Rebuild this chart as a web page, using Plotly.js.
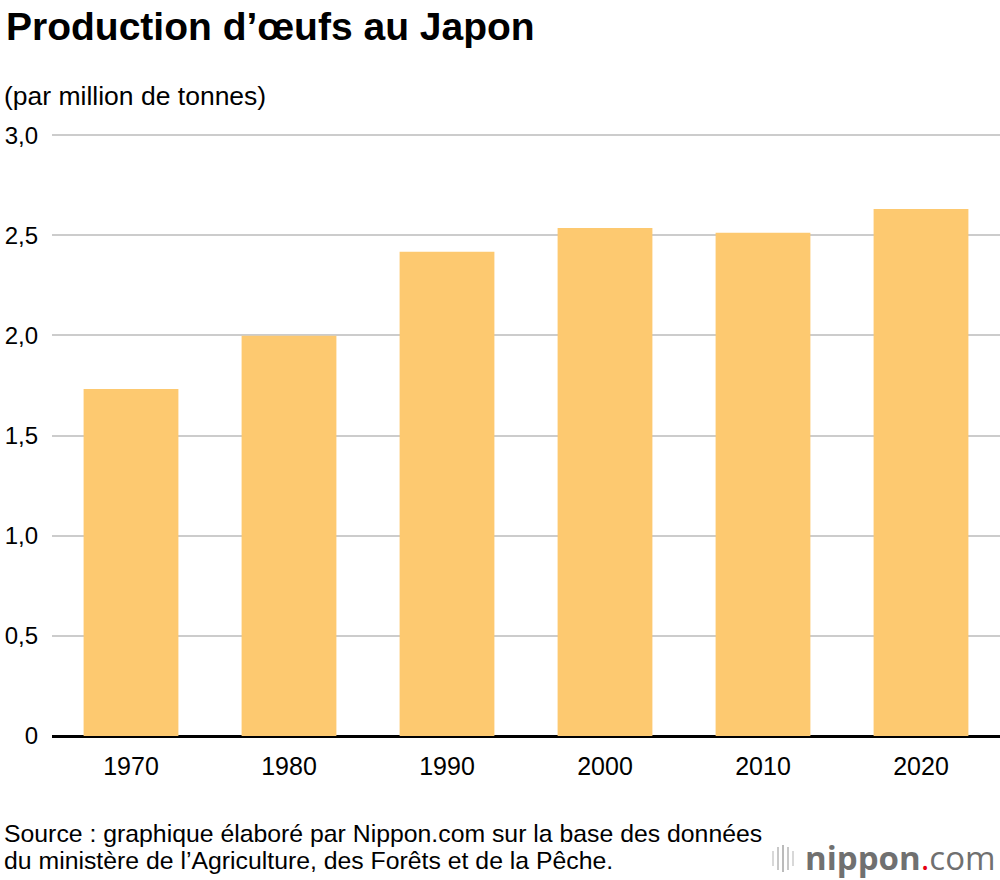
<!DOCTYPE html>
<html>
<head>
<meta charset="utf-8">
<script src="https://cdn.plot.ly/plotly-3.0.1.min.js"></script>
<style>
html,body{margin:0;padding:0;background:#fff;}
#chart{width:1000px;height:880px;}
</style>
</head>
<body>
<div id="chart"></div>
<script>
var years = ["1970", "1980", "1990", "2000", "2010", "2020"];
var production = [1.733, 1.998, 2.418, 2.537, 2.513, 2.632];
var yTickVals = [0, 0.5, 1, 1.5, 2, 2.5, 3];
var yTickText = ["0", "0,5", "1,0", "1,5", "2,0", "2,5", "3,0"];

var FONT = "Liberation Sans, Arial, Helvetica, sans-serif";

var trace = {
  type: "bar",
  x: years,
  y: production,
  width: 0.6,
  marker: {color: "#FDC970", line: {width: 0}},
  hoverinfo: "x+y"
};

var plotW = 948, plotH = 602, plotL = 52, plotT = 134;
function py(pix) { return (plotT + plotH - pix) / plotH; }
function px(pix) { return (pix - plotL) / plotW; }

var layout = {
  width: 1000,
  height: 880,
  margin: {l: plotL, r: 0, t: plotT, b: 880 - plotT - plotH},
  paper_bgcolor: "#ffffff",
  plot_bgcolor: "#ffffff",
  font: {family: FONT, color: "#000", size: 25},
  showlegend: false,
  bargap: 0.4,
  title: {
    text: "<b>Production d’œufs au Japon</b>",
    x: 0.006, xanchor: "left", xref: "container",
    y: 0.970, yanchor: "middle", yref: "container",
    font: {family: FONT, size: 39, color: "#000"}
  },
  xaxis: {
    type: "category",
    showgrid: false,
    showline: false,
    zeroline: false,
    ticks: "",
    tickfont: {family: FONT, size: 25, color: "#000"},
    ticklabelstandoff: 13,
    fixedrange: true
  },
  yaxis: {
    range: [0, 3.006],
    tickvals: yTickVals,
    ticktext: yTickText,
    showgrid: true,
    gridcolor: "#cccccc",
    gridwidth: 2,
    zeroline: true,
    zerolinecolor: "#000000",
    zerolinewidth: 3,
    showline: false,
    ticks: "",
    tickfont: {family: FONT, size: 24, color: "#000"},
    ticklabelstandoff: 13,
    fixedrange: true
  },
  annotations: [
    {
      text: "(par million de tonnes)",
      xref: "paper", yref: "paper",
      x: px(2), y: py(96),
      xanchor: "left", yanchor: "middle",
      showarrow: false,
      font: {family: FONT, size: 26.5, color: "#000"}
    },
    {
      text: "Source : graphique élaboré par Nippon.com sur la base des données",
      xref: "paper", yref: "paper",
      x: px(2), y: py(833),
      xanchor: "left", yanchor: "middle", align: "left",
      showarrow: false,
      font: {family: FONT, size: 24.8, color: "#000"}
    },
    {
      text: "du ministère de l’Agriculture, des Forêts et de la Pêche.",
      xref: "paper", yref: "paper",
      x: px(2), y: py(860),
      xanchor: "left", yanchor: "middle", align: "left",
      showarrow: false,
      font: {family: FONT, size: 24.8, color: "#000"}
    },
    {
      text: "<b>nippon</b><span style='color:#e60012'>.</span>com",
      xref: "paper", yref: "paper",
      x: px(998), y: py(857),
      xanchor: "right", yanchor: "middle",
      showarrow: false,
      font: {family: "Open Sans, sans-serif", size: 33, color: "#707070"}
    }
  ],
  shapes: []
};

// decorative logo bars (paper coordinates)
var logoBars = [
  {x: 773, top: 851, bot: 866, c: "#d8d8d8"},
  {x: 778, top: 847, bot: 870, c: "#c8c8c8"},
  {x: 783, top: 845, bot: 872, c: "#bbbbbb"},
  {x: 788, top: 847, bot: 870, c: "#c8c8c8"},
  {x: 793, top: 851, bot: 866, c: "#d8d8d8"}
];
logoBars.forEach(function (b) {
  layout.shapes.push({
    type: "line", xref: "paper", yref: "paper",
    x0: px(b.x), x1: px(b.x),
    y0: py(b.top), y1: py(b.bot),
    line: {color: b.c, width: 2}
  });
});

Plotly.newPlot("chart", [trace], layout, {displayModeBar: false, staticPlot: true});
</script>
</body>
</html>
